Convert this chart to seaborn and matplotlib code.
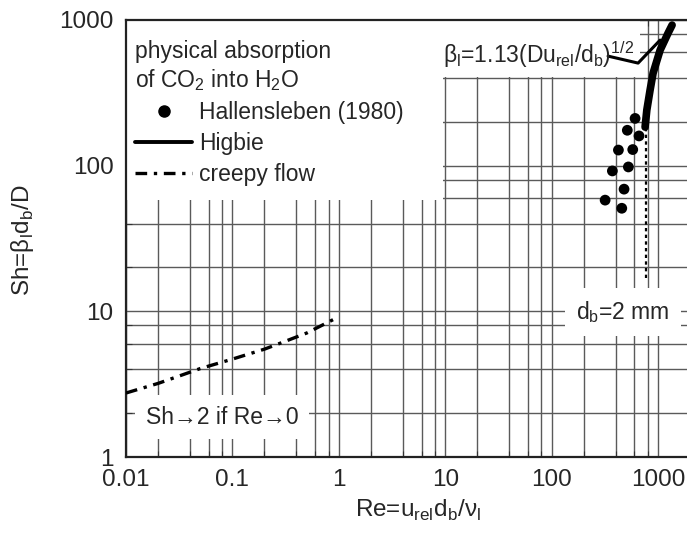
import numpy as np
import pandas as pd
import matplotlib
matplotlib.use("Agg")
import matplotlib.pyplot as plt
import seaborn as sns
from matplotlib.lines import Line2D
from matplotlib.patches import Rectangle
from matplotlib.ticker import LogLocator, FuncFormatter, NullFormatter

# Hallensleben (1980) measurements
re_hall = [608, 514, 662, 424, 578, 372, 526, 479, 318, 456]
sh_hall = [211, 175, 160, 128, 129, 92, 98, 69, 58, 51]

# Higbie penetration theory
re_higbie = [755, 784, 841, 898, 1045, 1242, 1355]
sh_higbie = [184, 241, 330, 432, 621, 813, 923]

# creeping flow
re_creep = [0.01, 0.02, 0.03, 0.05, 0.1, 0.2, 0.3, 0.5, 0.92]
sh_creep = [2.75, 3.2, 3.55, 4.05, 4.7, 5.5, 6.15, 7.1, 8.9]

# d_b = 2 mm marker line
re_db = [775, 775]
sh_db = [17, 185]

# leader line of the Higbie label
leader_re = [339, 649, 1045]
leader_sh = [565, 506, 728]

x_ticks = [0.01, 0.1, 1, 10, 100, 1000]
y_ticks = [1, 10, 100, 1000]

sns.set_style("white")
plt.rcParams['font.family'] = ['Liberation Sans', 'DejaVu Sans']
plt.rcParams['mathtext.fontset'] = 'custom'
plt.rcParams['mathtext.rm'] = 'Liberation Sans'

fig = plt.figure(figsize=(6.87, 5.45), dpi=100)
ax = fig.add_axes([126 / 687, 88 / 545, 561 / 687, 437 / 545])
ax.set_xscale("log")
ax.set_yscale("log")
ax.set_xlim(0.01, 1870)
ax.set_ylim(1, 1000)

# grid at 2,4,6,8 and the decades
ax.set_axisbelow(True)
ax.xaxis.set_minor_locator(LogLocator(base=10, subs=[2, 4, 6, 8], numticks=20))
ax.yaxis.set_minor_locator(LogLocator(base=10, subs=[2, 4, 6, 8], numticks=20))
ax.grid(True, which="both", color="#5a5a5a", linewidth=1.0)
ax.xaxis.set_minor_formatter(NullFormatter())
ax.yaxis.set_minor_formatter(NullFormatter())
ax.set_xticks(x_ticks)
ax.set_yticks(y_ticks)
ax.xaxis.set_major_formatter(FuncFormatter(lambda v, p: f"{v:g}"))
ax.yaxis.set_major_formatter(FuncFormatter(lambda v, p: f"{v:g}"))
ax.tick_params(which="both", direction="in", top=True, left=True, right=False, bottom=True,
               labelsize=17.5, color="#333333")
ax.tick_params(which="major", length=0, pad=9)
ax.tick_params(which="minor", length=4, width=0.8)

for s in ["left", "bottom", "top"]:
    ax.spines[s].set_color("#222222")
    ax.spines[s].set_linewidth(1.6)
ax.spines["right"].set_visible(False)

# white areas behind the legend and the Higbie label
ax.add_patch(Rectangle((0, 0.588), 0.565, 0.412, transform=ax.transAxes,
                       facecolor="white", edgecolor="none", zorder=1))
ax.add_patch(Rectangle((0.565, 0.870), 0.351, 0.13, transform=ax.transAxes,
                       facecolor="white", edgecolor="none", zorder=1))

df_hall = pd.DataFrame({"Re": re_hall, "Sh": sh_hall})
df_hig = pd.DataFrame({"Re": re_higbie, "Sh": sh_higbie})
df_creep = pd.DataFrame({"Re": re_creep, "Sh": sh_creep})

sns.lineplot(data=df_hig, x="Re", y="Sh", sort=False, estimator=None, color="black",
             linewidth=5.5, solid_capstyle="round", ax=ax, zorder=3)
sns.scatterplot(data=df_hall, x="Re", y="Sh", color="black", s=60, edgecolor="none",
                ax=ax, zorder=4)
sns.lineplot(data=df_creep, x="Re", y="Sh", sort=False, estimator=None, color="black",
             linewidth=2.4, linestyle=(0, (3.5, 2, 1, 2)), ax=ax, zorder=3)
ax.plot(re_db, sh_db, color="black", linewidth=1.6, linestyle=(0, (1.5, 1.5)), zorder=3)
ax.plot(leader_re, leader_sh, color="black", linewidth=2.2, zorder=3)

handles = [
    Line2D([], [], marker="o", color="black", linestyle="none", markersize=8),
    Line2D([], [], color="black", linewidth=2.8),
    Line2D([], [], color="black", linewidth=2.4, linestyle=(0, (3.5, 2, 1, 2))),
]
labels = ["Hallensleben (1980)", "Higbie", "creepy flow"]
leg = ax.legend(handles, labels, loc="upper left", bbox_to_anchor=(0.0, 0.975),
                frameon=False, fontsize=16.5, handlelength=2.5, handletextpad=0.3,
                labelspacing=0.35, borderaxespad=0.3, borderpad=0.1,
                title="physical absorption\nof CO$_2$ into H$_2$O",
                title_fontsize=16.5, alignment="left")
leg.set_zorder(5)

ax.text(0.565, 0.92, r"β$_\mathregular{l}$=1.13(Du$_\mathregular{rel}$/d$_\mathregular{b}$)$^\mathregular{1/2}$",
        transform=ax.transAxes, fontsize=16.5, ha="left", va="center", zorder=5)
ax.text(0.886, 0.332, r"d$_\mathregular{b}$=2 mm", transform=ax.transAxes, fontsize=16.5,
        ha="center", va="center", zorder=5,
        bbox=dict(boxstyle="square,pad=0.5", facecolor="white", edgecolor="none"))
ax.text(0.171, 0.0915, "Sh→2 if Re→0", transform=ax.transAxes, fontsize=16.5,
        ha="center", va="center", zorder=5,
        bbox=dict(boxstyle="square,pad=0.45", facecolor="white", edgecolor="none"))

ax.set_xlabel(r"Re=u$_\mathregular{rel}$d$_\mathregular{b}$/ν$_\mathregular{l}$", fontsize=17.5)
ax.set_ylabel(r"Sh=β$_\mathregular{l}$d$_\mathregular{b}$/D", fontsize=17.5)
ax.xaxis.set_label_coords(0.52, -0.094)
ax.yaxis.set_label_coords(-0.16, 0.497)

fig.savefig("out.png", dpi=100)
